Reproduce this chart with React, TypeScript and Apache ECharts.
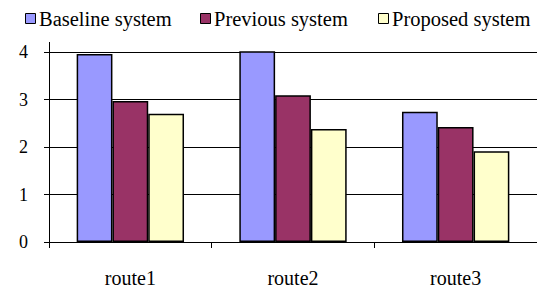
import React, { useEffect, useRef } from "react";
import * as echarts from "echarts";

const categories = ["route1", "route2", "route3"];
const seriesNames = ["Baseline system", "Previous system", "Proposed system"];
const baseline = [3.96, 4.04, 2.74];
const previous = [2.97, 3.09, 2.42];
const proposed = [2.7, 2.38, 1.91];
const colors = ["#9999FF", "#993366", "#FFFFCC"];

const FONT = "Liberation Serif";
const legendX = [25, 200, 378];

export default function App() {
  const ref = useRef<HTMLDivElement>(null);
  useEffect(() => {
    if (!ref.current) return;
    const chart = echarts.init(ref.current, null, { renderer: "svg" });
    const values = [baseline, previous, proposed];
    const legendGraphics: any[] = [];
    seriesNames.forEach((name, i) => {
      legendGraphics.push({
        type: "rect",
        shape: { x: legendX[i] + 0.5, y: 13.5, width: 10, height: 10 },
        style: { fill: colors[i], stroke: "#000", lineWidth: 1 },
      });
      legendGraphics.push({
        type: "text",
        x: legendX[i] + 14,
        y: 19,
        style: {
          text: name,
          fontFamily: FONT,
          fontSize: 20.5,
          fill: "#000",
          verticalAlign: "middle",
          align: "left",
        },
      });
    });
    chart.setOption({
      animation: false,
      backgroundColor: "#fff",
      textStyle: { fontFamily: FONT, color: "#000" },
      grid: { left: 49, top: 52, width: 493, height: 191, containLabel: false },
      xAxis: {
        type: "category",
        data: categories,
        z: 5,
        axisLine: { lineStyle: { color: "#000", width: 1 } },
        axisTick: { show: true, length: 6, lineStyle: { color: "#000" } },
        axisLabel: { fontFamily: FONT, fontSize: 20, color: "#000", margin: 26 },
      },
      yAxis: {
        type: "value",
        min: 0,
        max: 4,
        interval: 1,
        axisLine: { show: true, lineStyle: { color: "#000", width: 1 } },
        axisTick: { show: true, length: 5, lineStyle: { color: "#000" } },
        axisLabel: { fontFamily: FONT, fontSize: 18, color: "#000", margin: 21 },
        splitLine: { show: true, lineStyle: { color: "#000", width: 1 } },
      },
      graphic: [
        {
          type: "line",
          shape: { x1: 49.5, y1: 42, x2: 49.5, y2: 52 },
          style: { stroke: "#000", lineWidth: 1 },
        },
        ...legendGraphics,
      ],
      series: seriesNames.map((name, i) => ({
        name,
        type: "bar",
        data: values[i],
        barGap: "0%",
        barCategoryGap: "34%",
        itemStyle: {
          color: colors[i],
          borderColor: "#000",
          borderWidth: 1.5,
        },
      })),
    });
    return () => chart.dispose();
  }, []);
  return <div ref={ref} style={{ width: 537, height: 288, position: "absolute", left: 0, top: 0 }} />;
}
